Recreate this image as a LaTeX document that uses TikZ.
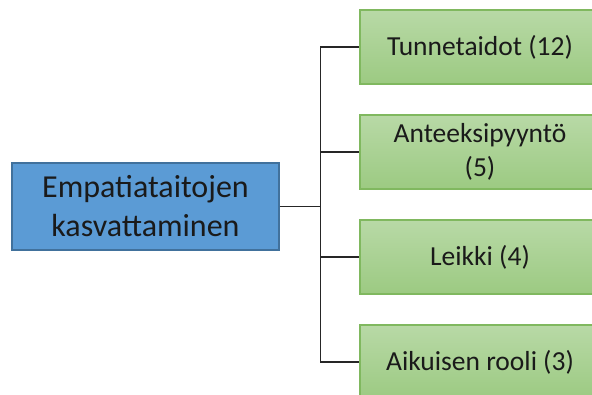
\documentclass[tikz,border=0pt]{standalone}
\usepackage{fontspec}
\setmainfont{Carlito}
\usepackage{xcolor}
\usepackage{tikz}
\definecolor{rootfill}{HTML}{5B9BD5}
\definecolor{rootline}{HTML}{41719C}
\definecolor{leaftop}{HTML}{B8D9A6}
\definecolor{leafbot}{HTML}{9CCA82}
\definecolor{leafline}{HTML}{80B85F}
\definecolor{txt}{HTML}{1A1A1A}

\begin{document}
\begin{tikzpicture}[x=1pt,y=1pt,
            root/.style={shape=rectangle, draw=rootline, line width=1.2pt, fill=rootfill,
                minimum width=267pt, minimum height=87pt, align=center, text=txt,
                font=\fontsize{32}{39}\selectfont},
            leaf/.style={shape=rectangle, draw=leafline, line width=1.2pt,
                top color=leaftop, bottom color=leafbot,
                minimum width=240pt, minimum height=74pt, align=center, text=txt,
                font=\fontsize{27.5}{34}\selectfont},
            link/.style={draw=black!85, line width=1.1pt}]
        \clip (0,0) rectangle (592,394);

        \node[root] (emp) at (145.5,187.5) {Empatiataitojen\\kasvattaminen};

        \node[leaf] (tunne) at (480,347) {Tunnetaidot (12)};
        \node[leaf] (antee) at (480,242) {Anteeksipyyntö\\(5)};
        \node[leaf] (leikki) at (480,137) {Leikki (4)};
        \node[leaf] (aikui) at (480,32) {Aikuisen rooli (3)};

        \coordinate (haara) at (320.5,187.5);
        \draw[link] (emp.east) -- (haara);
        \foreach \n in {tunne,antee,leikki,aikui}
            \draw[link] (haara) |- (\n.west);
    \end{tikzpicture}
\end{document}
